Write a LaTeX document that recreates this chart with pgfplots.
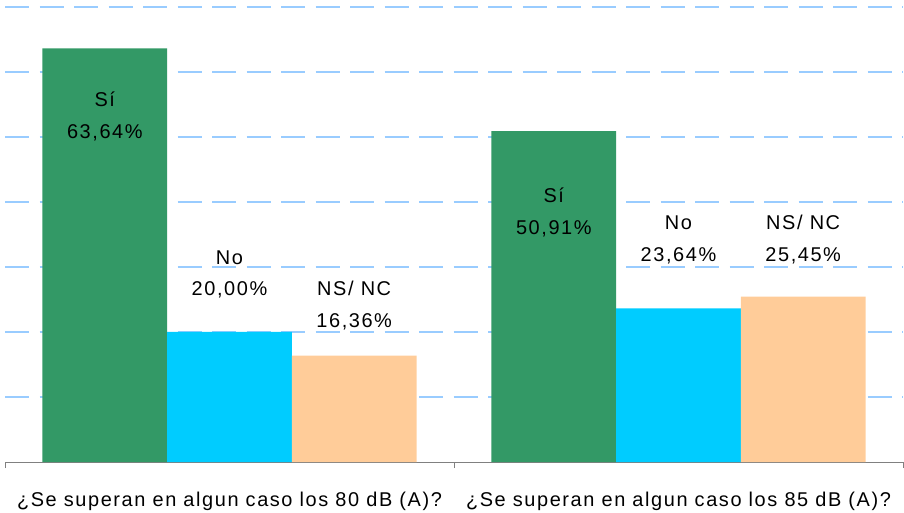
\documentclass[border=0pt]{standalone}
\usepackage{fontspec}
\setmainfont{Liberation Sans}[LetterSpace=8]
\usepackage{pgfplots}
\pgfplotsset{compat=1.18}
\definecolor{barSi}{HTML}{339966}
\definecolor{barNo}{HTML}{00CCFF}
\definecolor{barNs}{HTML}{FFCC99}
\definecolor{gridBlue}{HTML}{99CCFF}
\definecolor{axisGray}{HTML}{808080}

% x  value  label-shift(bp, last line baseline above bar top)
\pgfplotstableread{
x y dy
0 63.64 -90
1 50.91 -103
}\dataSi
\pgfplotstableread{
x y dy
0 20.00 36
1 23.64 47
}\dataNo
\pgfplotstableread{
x y dy
0 16.36 28
1 25.45 35
}\dataNs

\begin{document}
\begin{tikzpicture}
  \begin{axis}[
    scale only axis,
    width=898bp,height=455bp,
    xmin=-0.5,xmax=1.5,
    ymin=0,ymax=70,
    ybar=0pt,bar width=0.2777,
    axis x line=bottom,
    axis y line=left,
    x axis line style={-,draw=axisGray,line width=1bp},
    y axis line style={draw=none},
    xtick={0,1},
    xticklabels={¿Se superan en algun caso los 80 dB (A)?,¿Se superan en algun caso los 85 dB (A)?},
    major x tick style={draw=none},
    minor xtick={-0.5,0.5,1.5},
    minor x tick style={draw=axisGray,line width=1bp},
    minor tick length=6bp,
    tick align=outside,
    xticklabel style={font=\fontsize{20}{24}\selectfont,yshift=-22bp},
    ytick={10,20,...,70},
    yticklabels={},
    major y tick style={draw=none},
    ymajorgrids,
    major grid style={draw=gridBlue,line width=1.3bp,dash pattern=on 24bp off 10.5bp},
    visualization depends on={\thisrow{dy} \as \dy},
    every node near coord/.append style={font=\fontsize{20}{32}\selectfont,
      align=center,anchor=base,yshift=\dy bp,text=black},
  ]
    \addplot[fill=barSi,draw=none,
      nodes near coords={Sí\\\pgfmathprintnumber[fixed,fixed zerofill,precision=2,use comma,assume math mode=true]{\pgfplotspointmeta}\%}]
      table[x=x,y=y] {\dataSi};
    \addplot[fill=barNo,draw=none,
      nodes near coords={No\\\pgfmathprintnumber[fixed,fixed zerofill,precision=2,use comma,assume math mode=true]{\pgfplotspointmeta}\%}]
      table[x=x,y=y] {\dataNo};
    \addplot[fill=barNs,draw=none,
      nodes near coords={NS/ NC\\\pgfmathprintnumber[fixed,fixed zerofill,precision=2,use comma,assume math mode=true]{\pgfplotspointmeta}\%}]
      table[x=x,y=y] {\dataNs};
  \end{axis}
  \pgfresetboundingbox
  \path (-5bp,-51bp) rectangle (899bp,462bp);
\end{tikzpicture}
\end{document}
